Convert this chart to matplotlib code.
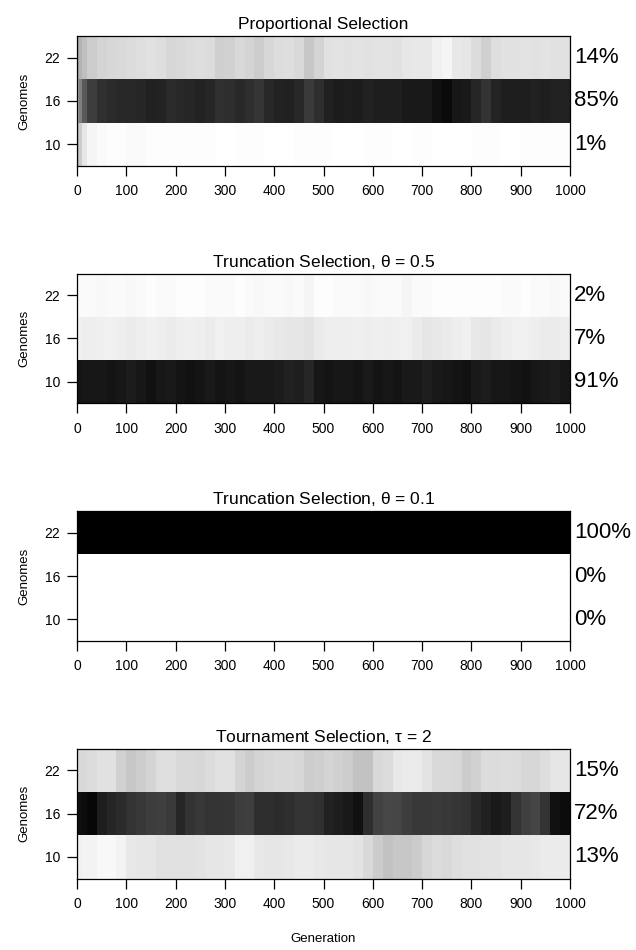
import matplotlib
matplotlib.use("Agg")
import matplotlib.pyplot as plt
import numpy as np

plt.rcParams["font.family"] = ["Liberation Sans", "DejaVu Sans"]

# generation bins (finer at the start of each run)
gen_edges = [0, 5, 10] + list(range(20, 1001, 20))
genome_sizes = [10, 16, 22]
gen_ticks = [0, 100, 200, 300, 400, 500, 600, 700, 800, 900, 1000]

titles = [
    "Proportional Selection",
    r"Truncation Selection, $\mathregular{\theta}$ = 0.5",
    r"Truncation Selection, $\mathregular{\theta}$ = 0.1",
    r"Tournament Selection, $\mathregular{\tau}$ = 2",
]

# share of the population (%) holding each genome size, per generation bin
prop_g22 = [35, 30, 25, 20, 17, 16, 15, 14, 13, 12, 13, 16, 15, 14, 13, 14, 19, 18, 15, 17, 20, 16,
            14, 13, 15, 22, 17, 12, 11, 12, 11, 12, 11, 11, 12, 10, 9, 9, 6, 4, 9, 10, 14, 19, 13,
            12, 12, 11, 12, 11, 12, 12]
prop_g16 = [37, 50, 65, 76, 81, 83, 84, 84, 85, 87, 86, 83, 84, 85, 86, 85, 81, 82, 84, 82, 79, 84,
            86, 87, 84, 77, 82, 87, 89, 88, 89, 87, 88, 88, 88, 90, 90, 90, 94, 96, 91, 90, 85, 80,
            86, 88, 88, 88, 87, 88, 87, 87]
prop_g10 = [28, 20, 10, 4, 2, 1, 1, 2, 2, 1, 1, 1, 1, 1, 1, 1, 0, 0, 1, 1, 1, 0, 0, 0, 1, 1, 1, 1, 0,
            0, 0, 1, 1, 1, 0, 0, 1, 1, 0, 0, 0, 0, 1, 1, 1, 0, 0, 1, 1, 1, 1, 1]

trunc5_g22 = [2, 2, 2, 2, 3, 2, 2, 3, 2, 1, 2, 2, 1, 1, 1, 2, 2, 2, 1, 2, 3, 2, 2, 3, 2, 4, 1, 1, 2,
              2, 2, 3, 2, 2, 2, 4, 2, 2, 1, 1, 1, 1, 1, 1, 1, 2, 2, 1, 2, 2, 3, 2]
trunc5_g16 = [6, 6, 7, 7, 6, 6, 7, 8, 7, 6, 7, 8, 7, 6, 7, 8, 6, 7, 7, 8, 7, 8, 9, 10, 10, 11, 8, 7,
              7, 7, 6, 7, 6, 7, 6, 6, 8, 10, 9, 8, 7, 6, 9, 10, 8, 7, 6, 6, 7, 8, 8, 7]
trunc5_g10 = [92, 92, 91, 91, 91, 92, 91, 89, 91, 93, 91, 90, 92, 93, 92, 90, 92, 91, 92, 90, 90, 90,
              89, 87, 88, 85, 91, 92, 91, 91, 92, 90, 92, 91, 92, 90, 90, 88, 90, 91, 92, 93, 90,
              89, 91, 91, 92, 93, 91, 90, 89, 91]

trunc1_g22 = [100, 100, 100, 100, 100, 100, 100, 100, 100, 100, 100, 100, 100, 100, 100, 100, 100,
              100, 100, 100, 100, 100, 100, 100, 100, 100, 100, 100, 100, 100, 100, 100, 100, 100,
              100, 100, 100, 100, 100, 100, 100, 100, 100, 100, 100, 100, 100, 100, 100, 100, 100, 100]
trunc1_g16 = [0, 0, 0, 0, 0, 0, 0, 0, 0, 0, 0, 0, 0, 0, 0, 0, 0, 0, 0, 0, 0, 0, 0, 0, 0, 0,
              0, 0, 0, 0, 0, 0, 0, 0, 0, 0, 0, 0, 0, 0, 0, 0, 0, 0, 0, 0, 0, 0, 0, 0, 0, 0]
trunc1_g10 = [0, 0, 0, 0, 0, 0, 0, 0, 0, 0, 0, 0, 0, 0, 0, 0, 0, 0, 0, 0, 0, 0, 0, 0, 0, 0,
              0, 0, 0, 0, 0, 0, 0, 0, 0, 0, 0, 0, 0, 0, 0, 0, 0, 0, 0, 0, 0, 0, 0, 0, 0, 0]

tourn_g22 = [15, 15, 15, 14, 12, 12, 18, 22, 20, 17, 13, 13, 15, 15, 16, 14, 12, 12, 17, 20, 17, 16,
             15, 15, 16, 20, 19, 17, 18, 20, 24, 24, 15, 14, 9, 8, 8, 11, 15, 15, 16, 20, 18, 14,
             14, 13, 14, 16, 16, 13, 10, 10]
tourn_g16 = [92, 94, 95, 97, 88, 85, 83, 80, 78, 76, 75, 77, 85, 80, 78, 80, 80, 79, 76, 75, 82, 82,
             83, 82, 80, 80, 81, 87, 88, 90, 93, 82, 74, 72, 73, 76, 78, 78, 77, 78, 79, 80, 84,
             87, 90, 88, 80, 75, 73, 80, 93, 95]
tourn_g10 = [7, 6, 5, 5, 3, 3, 5, 9, 10, 10, 12, 12, 12, 12, 11, 10, 10, 9, 6, 6, 9, 10, 10, 9, 8, 8,
             9, 10, 10, 10, 11, 15, 20, 24, 22, 22, 20, 16, 14, 15, 13, 12, 12, 11, 11, 10, 10, 10,
             9, 8, 8, 8]

# mean shares printed at the right of each panel (rows 22, 16, 10)
mean_labels = [
    ["14%", "85%", "1%"],
    ["2%", "7%", "91%"],
    ["100%", "0%", "0%"],
    ["15%", "72%", "13%"],
]

panels = [
    (prop_g10, prop_g16, prop_g22),
    (trunc5_g10, trunc5_g16, trunc5_g22),
    (trunc1_g10, trunc1_g16, trunc1_g22),
    (tourn_g10, tourn_g16, tourn_g22),
]

W, H = 636, 950
fig = plt.figure(figsize=(W / 100, H / 100), dpi=100)

left_px, right_px = 77, 570
panel_h = 130
tops = [36, 273.5, 511, 748.5]

y_edges = [7, 13, 19, 25]

for k, (rows, title, labels) in enumerate(zip(panels, titles, mean_labels)):
    ax = fig.add_axes([left_px / W, 1 - (tops[k] + panel_h) / H,
                       (right_px - left_px) / W, panel_h / H])
    z = np.array(rows, dtype=float)
    ax.pcolormesh(gen_edges, y_edges, z, cmap="gray_r", vmin=0, vmax=100,
                  shading="flat", rasterized=True)
    ax.set_xlim(0, 1000)
    ax.set_ylim(7, 25)
    ax.set_xticks(gen_ticks)
    ax.set_xticklabels([str(t) for t in gen_ticks])
    ax.set_yticks(genome_sizes)
    ax.set_yticklabels([str(g) for g in genome_sizes])
    ax.tick_params(axis="both", direction="out", length=7, width=0.9,
                   labelsize=10, colors="black")
    ax.tick_params(axis="x", pad=6)
    ax.tick_params(axis="y", pad=5)
    for sp in ax.spines.values():
        sp.set_linewidth(0.9)
    ax.set_title(title, fontsize=12.5, pad=5)
    ax.set_ylabel("Genomes", fontsize=9.5, labelpad=10)
    for g, lab in zip([22, 16, 10], labels):
        ax.text(1.008, (g - 7) / 18, lab, transform=ax.transAxes,
                ha="left", va="center", fontsize=16)
    if k == 3:
        ax.set_xlabel("Generation", fontsize=9.5, labelpad=16)

fig.savefig("out.png", dpi=100)
